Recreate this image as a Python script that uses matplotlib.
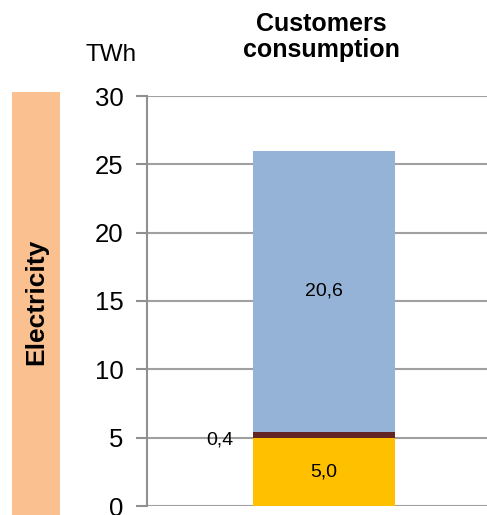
import matplotlib
matplotlib.use("Agg")
import matplotlib.pyplot as plt
from matplotlib.patches import Rectangle

plt.rcParams["font.family"] = ["Liberation Sans", "DejaVu Sans"]

# Stacked segments of the single consumption bar (TWh)
segment_names = ["Base", "Other", "Main"]
segment_values = [5.0, 0.4, 20.6]
segment_labels = ["5,0", "0,4", "20,6"]
segment_colors = ["#FFC000", "#632523", "#95B3D7"]
y_ticks = [0, 5, 10, 15, 20, 25, 30]

W, H = 487, 515
fig = plt.figure(figsize=(W / 100, H / 100), dpi=100)
fig.patch.set_facecolor("white")

ax_left, ax_right = 147, 487
ax_top, ax_bottom = 96, 506
ax = fig.add_axes([ax_left / W, 1 - ax_bottom / H,
                   (ax_right - ax_left) / W, (ax_bottom - ax_top) / H])

bar_width = 1.0
bar_center_px = 324
px_per_unit = 142
ax.set_xlim(-(bar_center_px - ax_left) / px_per_unit,
            (ax_right - bar_center_px) / px_per_unit)
ax.set_ylim(0, 30)

bottom = 0
for name, val, col in zip(segment_names, segment_values, segment_colors):
    ax.bar(0, val, bottom=bottom, width=bar_width, color=col, zorder=3,
           linewidth=0)
    bottom += val

# value labels
ax.text(0, segment_values[0] / 2, segment_labels[0], ha="center",
        va="center", fontsize=14, zorder=4)
ax.text(-(324 - 220) / px_per_unit, segment_values[0] - 0.15,
        segment_labels[1], ha="center", va="center", fontsize=14, zorder=4)
ax.text(0, segment_values[0] + segment_values[1] + segment_values[2] / 2,
        segment_labels[2], ha="center", va="center", fontsize=14, zorder=4)

ax.set_yticks(y_ticks)
ax.set_yticklabels([str(t) for t in y_ticks], fontsize=18.5)
ax.set_xticks([])
ax.yaxis.grid(True, color="#A0A0A0", linewidth=1.5, zorder=0)
ax.tick_params(axis="y", length=8, width=1.5, color="#909090", pad=9)
for s in ["top", "right", "bottom"]:
    ax.spines[s].set_visible(False)
ax.spines["left"].set_color("#909090")
ax.spines["left"].set_linewidth(1.5)

# unit and title
fig.text(111 / W, 1 - 55 / H, "TWh", ha="center", va="center", fontsize=17.5)
fig.text(321 / W, 1 - 37 / H, "Customers\nconsumption", ha="center",
         va="center", fontsize=18, fontweight="bold", linespacing=1.15)

# side band
fig.patches.append(Rectangle((12 / W, 0), 48 / W, 1 - 92 / H,
                             transform=fig.transFigure,
                             facecolor="#FAC090", edgecolor="none"))
fig.text(36 / W, 1 - 302 / H, "Electricity", rotation=90, ha="center",
         va="center", fontsize=19, fontweight="bold")

fig.savefig("out.png", dpi=100)
